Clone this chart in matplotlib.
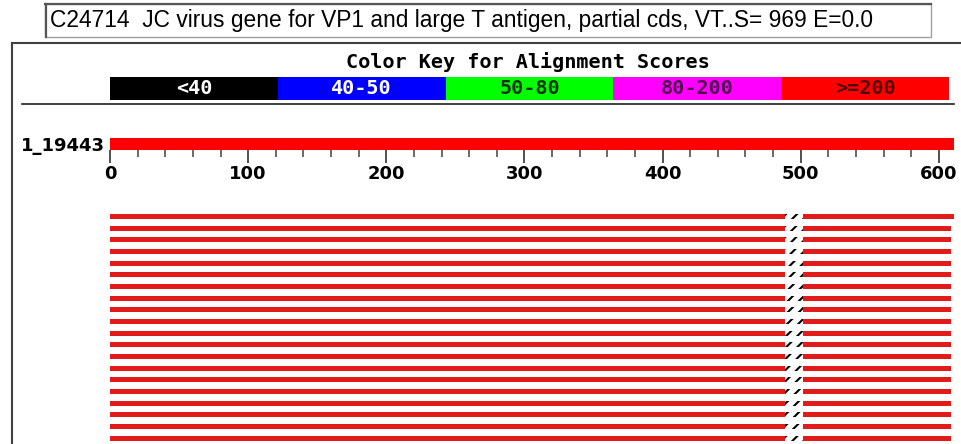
import matplotlib
matplotlib.use('Agg')
import matplotlib.pyplot as plt
from matplotlib.lines import Line2D
from matplotlib.patches import Rectangle
from matplotlib.ticker import MultipleLocator

# data
title_text = "C24714  JC virus gene for VP1 and large T antigen, partial cds, VT..S= 969 E=0.0"
key_title = "Color Key for Alignment Scores"
key_labels = ['<40', '40-50', '50-80', '80-200', '>=200']
key_colors = ['#000000', '#0000ff', '#00ff00', '#ff00ff', '#ff0000']
key_text_colors = ['white', 'white', '#0a300a', '#500050', '#500000']

query_name = '1_19443'
query_len = 611

hit_start = [0] * 20
gap_start = [489] * 20
gap_end = [502] * 20
hit_end = [611] + [609] * 19

W, H = 962, 444


def box(x0, y0, x1, y1):
    # pixel box (top-left origin) -> figure fraction
    return [x0 / W, 1 - y1 / H, (x1 - x0) / W, (y1 - y0) / H]


plt.rcParams['hatch.linewidth'] = 1.5
fig = plt.figure(figsize=(W / 100, H / 100), dpi=100)
fig.patch.set_facecolor('white')

# title box
fig.add_artist(Rectangle((45 / W, 1 - 37 / H), 886 / W, 33 / H, transform=fig.transFigure,
                         fill=False, edgecolor='#a0a0a0', lw=1))
fig.add_artist(Line2D([45 / W, 931 / W], [1 - 4.5 / H] * 2, color='#555555', lw=1.6))
fig.add_artist(Line2D([45.5 / W] * 2, [1 - 4 / H, 1 - 37 / H], color='#555555', lw=1.6))
t = fig.text(50 / W, 1 - 21 / H, title_text, ha='left', va='center',
             family='Liberation Sans', fontsize=14)
fig.canvas.draw()
ext = t.get_window_extent()
t.set_fontsize(14 * 828 / ext.width)

# outer frame
fig.add_artist(Line2D([12 / W] * 2, [1 - 43 / H, 0], color='#404040', lw=1.5))
fig.add_artist(Line2D([12 / W, 1], [1 - 43 / H] * 2, color='#404040', lw=1.5))

# colour key
mono = 'DejaVu Sans Mono'
fig.text(528 / W, 1 - 62 / H, key_title, ha='center', va='center',
         family=mono, weight='bold', fontsize=14.5)
ax_key = fig.add_axes(box(110, 77, 949, 100))
ax_key.barh(0, 1, left=range(len(key_labels)), height=1, color=key_colors)
for i, (lab, tc) in enumerate(zip(key_labels, key_text_colors)):
    ax_key.text(i + 0.5, 0, lab, ha='center', va='center', color=tc,
                family=mono, weight='bold', fontsize=14.5)
ax_key.set_xlim(0, len(key_labels))
ax_key.set_ylim(-0.5, 0.5)
ax_key.axis('off')

fig.add_artist(Line2D([22 / W, 954 / W], [1 - 104 / H] * 2, color='#202020', lw=1.2))

# query bar with ruler
ax_q = fig.add_axes(box(110, 138, 954, 150))
ax_q.barh(0, query_len, height=1, color='#ff0000')
ax_q.set_xlim(0, 611)
ax_q.set_ylim(-0.5, 0.5)
for s in ax_q.spines.values():
    s.set_visible(False)
ax_q.xaxis.set_major_locator(MultipleLocator(100))
ax_q.xaxis.set_minor_locator(MultipleLocator(20))
ax_q.tick_params(axis='x', which='major', length=9.4, width=1.1, pad=1.5,
                 labelsize=13, color='#202020')
ax_q.tick_params(axis='x', which='minor', length=5, width=1.1, color='#404040')
for lb in ax_q.get_xticklabels():
    lb.set_fontweight('bold')
ax_q.set_yticks([0], [query_name])
ax_q.tick_params(axis='y', length=0, pad=3.5, labelsize=13)
for lb in ax_q.get_yticklabels():
    lb.set_fontweight('bold')

# hits
ax_h = fig.add_axes(box(110, 210.7, 954, 444))
rows = range(len(hit_start))
for i in rows:
    ax_h.barh(i, gap_start[i] - hit_start[i], left=hit_start[i], height=0.45, color='#e31a1a')
    ax_h.barh(i, hit_end[i] - gap_end[i], left=gap_end[i], height=0.45, color='#e31a1a')
    ax_h.barh(i, gap_end[i] - gap_start[i], left=gap_start[i], height=0.45,
              facecolor='white', edgecolor='black', hatch='///', lw=0)
ax_h.set_xlim(0, 611)
ax_h.set_ylim(len(hit_start) - 0.5, -0.5)
ax_h.axis('off')

fig.savefig('out.png', dpi=100)
